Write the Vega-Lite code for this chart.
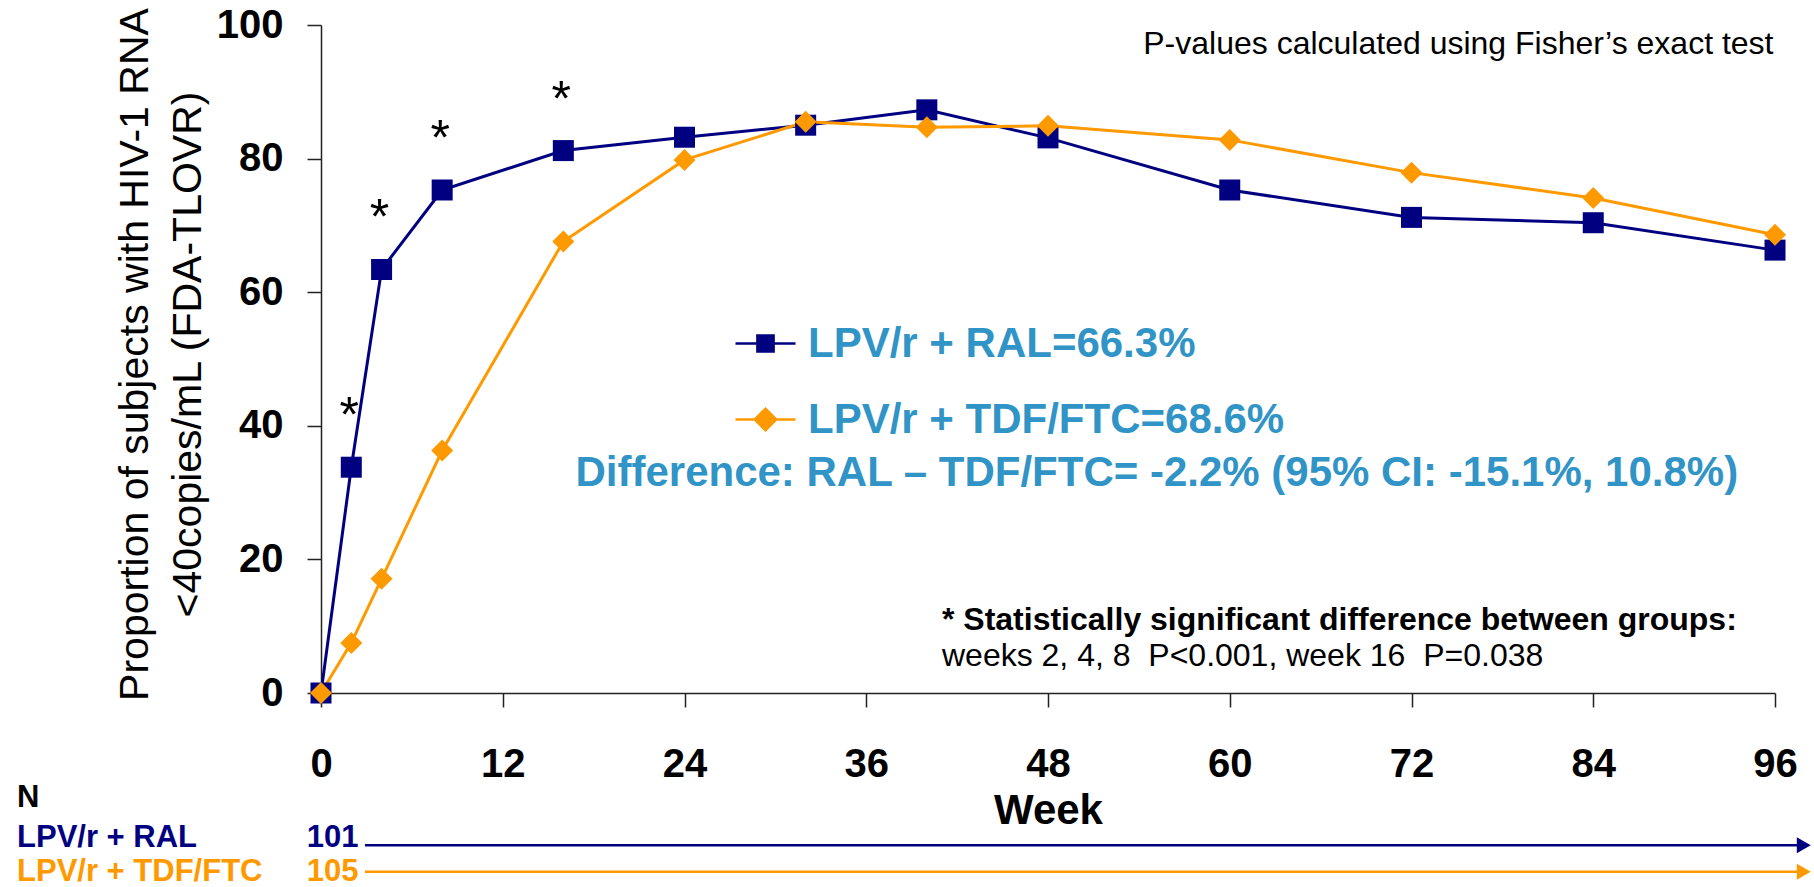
{
  "$schema": "https://vega.github.io/schema/vega-lite/v6.json",
  "width": 1454,
  "height": 668,
  "autosize": {"type": "none"},
  "padding": {"left": 321, "top": 25, "right": 39, "bottom": 194},
  "background": "white",
  "config": {
    "font": "Liberation Sans",
    "view": {"stroke": null},
    "text": {"font": "Liberation Sans"}
  },
  "datasets": {
    "response": [
      {"week": 0, "arm": "LPV/r + RAL", "pct": 0},
      {"week": 2, "arm": "LPV/r + RAL", "pct": 33.8, "sig": "*"},
      {"week": 4, "arm": "LPV/r + RAL", "pct": 63.4, "sig": "*"},
      {"week": 8, "arm": "LPV/r + RAL", "pct": 75.3, "sig": "*"},
      {"week": 16, "arm": "LPV/r + RAL", "pct": 81.2, "sig": "*"},
      {"week": 24, "arm": "LPV/r + RAL", "pct": 83.2},
      {"week": 32, "arm": "LPV/r + RAL", "pct": 85.0},
      {"week": 40, "arm": "LPV/r + RAL", "pct": 87.3},
      {"week": 48, "arm": "LPV/r + RAL", "pct": 83.1},
      {"week": 60, "arm": "LPV/r + RAL", "pct": 75.3},
      {"week": 72, "arm": "LPV/r + RAL", "pct": 71.2},
      {"week": 84, "arm": "LPV/r + RAL", "pct": 70.4},
      {"week": 96, "arm": "LPV/r + RAL", "pct": 66.3},
      {"week": 0, "arm": "LPV/r + TDF/FTC", "pct": 0},
      {"week": 2, "arm": "LPV/r + TDF/FTC", "pct": 7.5},
      {"week": 4, "arm": "LPV/r + TDF/FTC", "pct": 17.1},
      {"week": 8, "arm": "LPV/r + TDF/FTC", "pct": 36.3},
      {"week": 16, "arm": "LPV/r + TDF/FTC", "pct": 67.6},
      {"week": 24, "arm": "LPV/r + TDF/FTC", "pct": 79.8},
      {"week": 32, "arm": "LPV/r + TDF/FTC", "pct": 85.5},
      {"week": 40, "arm": "LPV/r + TDF/FTC", "pct": 84.7},
      {"week": 48, "arm": "LPV/r + TDF/FTC", "pct": 84.9},
      {"week": 60, "arm": "LPV/r + TDF/FTC", "pct": 82.8},
      {"week": 72, "arm": "LPV/r + TDF/FTC", "pct": 77.9},
      {"week": 84, "arm": "LPV/r + TDF/FTC", "pct": 74.1},
      {"week": 96, "arm": "LPV/r + TDF/FTC", "pct": 68.6}
    ],
    "enrolled": [
      {"arm": "LPV/r + RAL", "n": 101},
      {"arm": "LPV/r + TDF/FTC", "n": 105}
    ]
  },
  "layer": [
    {
      "data": {"name": "response"},
      "mark": {"type": "line", "strokeWidth": 3},
      "encoding": {
        "x": {
          "field": "week",
          "type": "quantitative",
          "scale": {"domain": [0, 96], "nice": false},
          "axis": {
            "title": "Week",
            "values": [0, 12, 24, 36, 48, 60, 72, 84, 96],
            "format": "d",
            "grid": false,
            "labelFontSize": 40,
            "labelFontWeight": "bold",
            "labelColor": "#000000",
            "labelPadding": 37,
            "labelFlush": false,
            "labelOverlap": false,
            "tickSize": 14,
            "tickWidth": 1.5,
            "tickColor": "#222222",
            "domainWidth": 1.5,
            "domainColor": "#222222",
            "titleFontSize": 42,
            "titleFontWeight": "bold",
            "titleColor": "#000000",
            "titleBaseline": "alphabetic",
            "titleAlign": "center",
            "titleX": 727,
            "titleY": 130
          }
        },
        "y": {
          "field": "pct",
          "type": "quantitative",
          "scale": {"domain": [0, 100], "nice": false},
          "axis": {
            "title": ["Proportion of subjects with HIV-1 RNA", "<40copies/mL (FDA-TLOVR)\u00a0\u00a0\u00a0\u00a0"],
            "values": [0, 20, 40, 60, 80, 100],
            "format": "d",
            "grid": false,
            "labelFontSize": 40,
            "labelFontWeight": "bold",
            "labelColor": "#000000",
            "labelPadding": 24,
            "labelFlush": false,
            "labelOverlap": false,
            "tickSize": 14,
            "tickWidth": 1.5,
            "tickColor": "#222222",
            "domainWidth": 1.5,
            "domainColor": "#222222",
            "titleFontSize": 41,
            "titleFontWeight": "normal",
            "titleColor": "#000000",
            "titleAngle": 270,
            "titleAlign": "center",
            "titleBaseline": "alphabetic",
            "titleLineHeight": 53,
            "titleLimit": 2000,
            "titleX": -174,
            "titleY": 329
          }
        },
        "color": {
          "field": "arm",
          "type": "nominal",
          "scale": {"domain": ["LPV/r + RAL", "LPV/r + TDF/FTC"], "range": ["#000080", "#FF9900"]},
          "legend": {
            "orient": "none",
            "legendX": 413,
            "legendY": 287,
            "title": null,
            "direction": "vertical",
            "padding": 0,
            "symbolSize": 3600,
            "symbolStrokeWidth": 2.5,
            "labelFontSize": 42,
            "labelFontWeight": "bold",
            "labelColor": "#3194C6",
            "labelOffset": 11,
            "labelLimit": 1000,
            "rowPadding": 23,
            "labelExpr": "datum.label + (datum.label == 'LPV/r + RAL' ? '=66.3%' : '=68.6%')",
            "encode": {
              "symbols": {
                "update": {
                  "shape": {"signal": "datum.value == 'LPV/r + RAL' ? 'M-1,0H1M-0.27,-0.27H0.27V0.27H-0.27Z' : 'M-1,0H1M-0.36,0L0,-0.36L0.36,0L0,0.36Z'"},
                  "fill": {"signal": "scale('color', datum.value)"}
                }
              }
            }
          }
        }
      }
    },
    {
      "data": {"name": "response"},
      "transform": [{"filter": "datum.arm == 'LPV/r + RAL'"}],
      "mark": {"type": "point", "shape": "square", "filled": true, "opacity": 1, "size": 441, "strokeWidth": 0, "color": "#000080"},
      "encoding": {
        "x": {"field": "week", "type": "quantitative"},
        "y": {"field": "pct", "type": "quantitative"}
      }
    },
    {
      "data": {"name": "response"},
      "transform": [{"filter": "datum.arm == 'LPV/r + TDF/FTC'"}],
      "mark": {"type": "point", "shape": "diamond", "filled": true, "opacity": 1, "size": 484, "strokeWidth": 0, "color": "#FF9900"},
      "encoding": {
        "x": {"field": "week", "type": "quantitative"},
        "y": {"field": "pct", "type": "quantitative"}
      }
    },
    {
      "data": {"name": "response"},
      "transform": [{"filter": "datum.sig == '*'"}],
      "mark": {"type": "text", "fontSize": 50, "color": "#000000", "baseline": "alphabetic", "dy": -35, "dx": -2},
      "encoding": {
        "x": {"field": "week", "type": "quantitative"},
        "y": {"field": "pct", "type": "quantitative"},
        "text": {"field": "sig"}
      }
    },
    {
      "data": {"values": [{"note": "P-values calculated using Fisher’s exact test"}]},
      "mark": {"type": "text", "align": "right", "baseline": "alphabetic", "fontSize": 32, "color": "#000000"},
      "encoding": {
        "x": {"datum": 95.9},
        "y": {"datum": 95.6},
        "text": {"field": "note"}
      }
    },
    {
      "data": {"values": [{"note": "Difference: RAL – TDF/FTC= -2.2% (95% CI: -15.1%, 10.8%)"}]},
      "mark": {"type": "text", "align": "left", "baseline": "alphabetic", "fontSize": 42, "fontWeight": "bold", "color": "#3194C6"},
      "encoding": {
        "x": {"datum": 16.8},
        "y": {"datum": 31.0},
        "text": {"field": "note"}
      }
    },
    {
      "data": {"values": [{"note": "* Statistically significant difference between groups:"}]},
      "mark": {"type": "text", "align": "left", "baseline": "alphabetic", "fontSize": 32, "fontWeight": "bold", "color": "#000000"},
      "encoding": {
        "x": {"datum": 41.0},
        "y": {"datum": 9.4},
        "text": {"field": "note"}
      }
    },
    {
      "data": {"values": [{"note": "weeks 2, 4, 8\u00a0\u00a0P<0.001, week 16\u00a0\u00a0P=0.038"}]},
      "mark": {"type": "text", "align": "left", "baseline": "alphabetic", "fontSize": 32, "color": "#000000"},
      "encoding": {
        "x": {"datum": 41.0},
        "y": {"datum": 4.0},
        "text": {"field": "note"}
      }
    },
    {
      "data": {"values": [{"note": "N"}]},
      "mark": {"type": "text", "align": "left", "baseline": "alphabetic", "fontSize": 31, "fontWeight": "bold", "color": "#000000"},
      "encoding": {
        "x": {"datum": -20.07},
        "y": {"datum": -17.1},
        "text": {"field": "note"}
      }
    },
    {
      "data": {"name": "enrolled"},
      "transform": [{"filter": "datum.arm == 'LPV/r + RAL'"}],
      "layer": [
        {
          "mark": {"type": "text", "align": "left", "baseline": "alphabetic", "fontSize": 31, "fontWeight": "bold", "color": "#000080"},
          "encoding": {"x": {"datum": -20.07}, "y": {"datum": -23.05}, "text": {"field": "arm"}}
        },
        {
          "mark": {"type": "text", "align": "right", "baseline": "alphabetic", "fontSize": 31, "fontWeight": "bold", "color": "#000080"},
          "encoding": {"x": {"datum": 2.48}, "y": {"datum": -23.05}, "text": {"field": "n"}}
        },
        {
          "mark": {"type": "rule", "color": "#000080", "strokeWidth": 2.5},
          "encoding": {"x": {"datum": 2.9}, "x2": {"datum": 97.5}, "y": {"datum": -22.8}}
        },
        {
          "mark": {"type": "point", "shape": "triangle-right", "filled": true, "opacity": 1, "size": 260, "color": "#000080"},
          "encoding": {"x": {"datum": 97.9}, "y": {"datum": -22.8}}
        }
      ]
    },
    {
      "data": {"name": "enrolled"},
      "transform": [{"filter": "datum.arm == 'LPV/r + TDF/FTC'"}],
      "layer": [
        {
          "mark": {"type": "text", "align": "left", "baseline": "alphabetic", "fontSize": 31, "fontWeight": "bold", "color": "#FF9900"},
          "encoding": {"x": {"datum": -20.07}, "y": {"datum": -28.1}, "text": {"field": "arm"}}
        },
        {
          "mark": {"type": "text", "align": "right", "baseline": "alphabetic", "fontSize": 31, "fontWeight": "bold", "color": "#FF9900"},
          "encoding": {"x": {"datum": 2.48}, "y": {"datum": -28.1}, "text": {"field": "n"}}
        },
        {
          "mark": {"type": "rule", "color": "#FF9900", "strokeWidth": 2.5},
          "encoding": {"x": {"datum": 2.9}, "x2": {"datum": 97.5}, "y": {"datum": -26.75}}
        },
        {
          "mark": {"type": "point", "shape": "triangle-right", "filled": true, "opacity": 1, "size": 260, "color": "#FF9900"},
          "encoding": {"x": {"datum": 97.9}, "y": {"datum": -26.75}}
        }
      ]
    }
  ]
}
